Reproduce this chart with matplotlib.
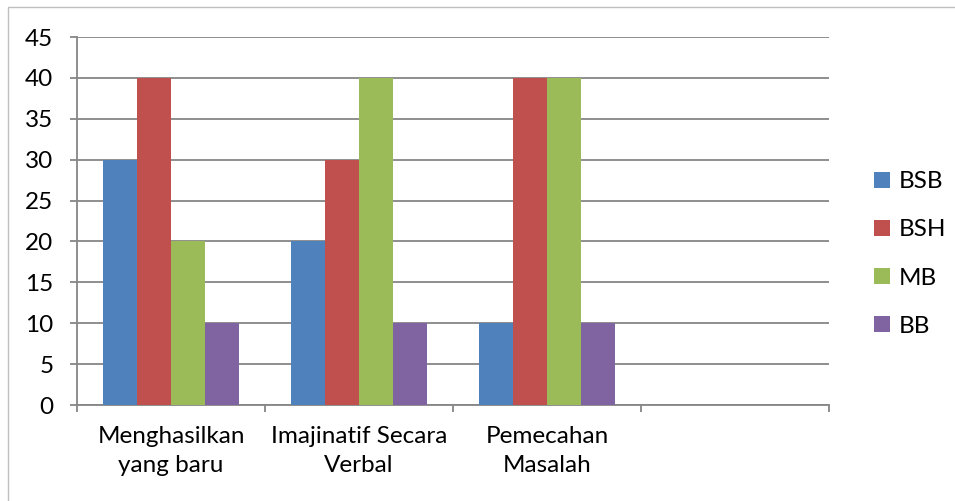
import matplotlib.pyplot as plt
from matplotlib.patches import Rectangle
import numpy as np

categories = ["Menghasilkan\nyang baru", "Imajinatif Secara\nVerbal", "Pemecahan\nMasalah", ""]
series_names = ["BSB", "BSH", "MB", "BB"]
bsb = [30, 20, 10]
bsh = [40, 30, 40]
mb = [20, 40, 40]
bb = [10, 10, 10]
colors = ["#4F81BD", "#C0504D", "#9BBB59", "#8064A2"]

plt.rcParams["font.family"] = ["Lato", "DejaVu Sans"]
grid_col = "#868686"
fs = 17.5

fig = plt.figure(figsize=(9.55, 5.01), dpi=100)
ax = fig.add_axes([77 / 955, 1 - 405 / 501, (829 - 77) / 955, (405 - 37) / 501])

# outer chart border (only top/left visible in the picture)
fig.patches.append(Rectangle((8 / 955, -0.1), 1.2, 1 - 7 / 501 + 0.1,
                             transform=fig.transFigure, fill=False,
                             edgecolor="#BFBFBF", linewidth=1))

w = 34 / 188
x = np.arange(len(bsb)) + 0.5
for i, (vals, name) in enumerate(zip([bsb, bsh, mb, bb], series_names)):
    ax.bar(x + (i - 1.5) * w, vals, width=w, color=colors[i], label=name, zorder=3)

ax.set_xlim(0, 4)
ax.set_ylim(0, 45)
ax.set_yticks(range(0, 46, 5))
ax.yaxis.grid(True, color=grid_col, linewidth=1.3, zorder=0)

ax.set_xticks(range(0, 5))
ax.set_xticklabels([])
ax.set_xticks(np.arange(4) + 0.5, minor=True)
ax.set_xticklabels(categories, minor=True, linespacing=1.5)
ax.tick_params(axis="x", which="minor", length=0, pad=15, labelsize=fs)
ax.tick_params(axis="x", which="major", length=5, width=1.3, color=grid_col, direction="out")
ax.tick_params(axis="y", length=5, width=1.3, color=grid_col, pad=12, labelsize=fs)

for s in ["top", "right"]:
    ax.spines[s].set_visible(False)
for s in ["left", "bottom"]:
    ax.spines[s].set_color(grid_col)
    ax.spines[s].set_linewidth(1.3)

leg = fig.legend(loc="center left", bbox_to_anchor=(862 / 955, 1 - 254 / 501),
                 frameon=False, fontsize=fs, handlelength=0.65, handleheight=0.65,
                 handletextpad=0.35, labelspacing=1.12, borderpad=0)

fig.savefig("out.png", dpi=100)
